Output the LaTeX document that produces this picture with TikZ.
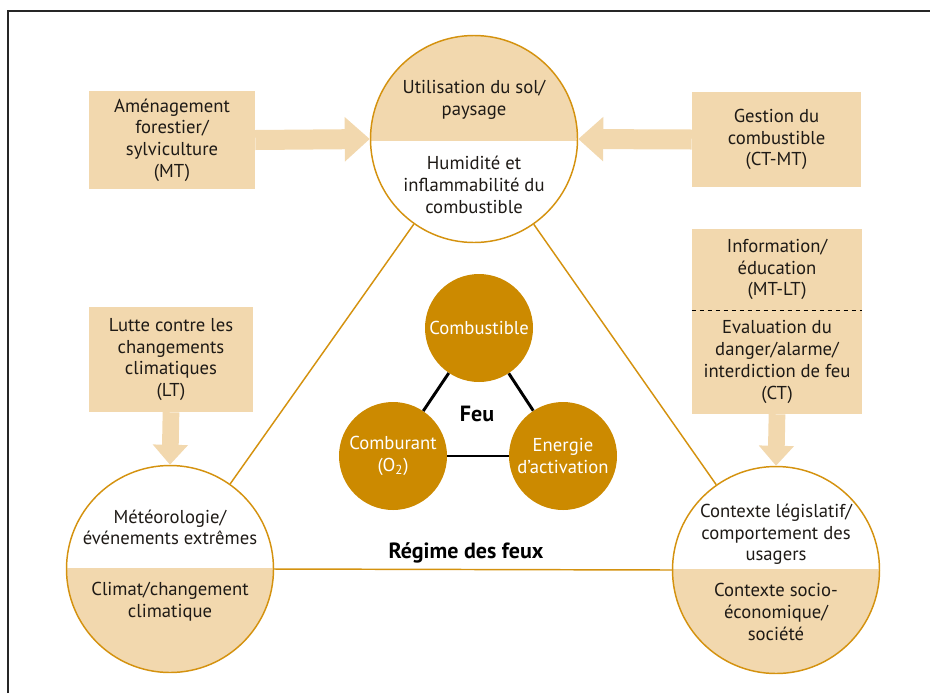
\documentclass[tikz,border=0pt]{standalone}
\usepackage{fontspec}
\setmainfont{PT Sans}
\usetikzlibrary{arrows.meta}
\definecolor{tanfill}{HTML}{F2D8AE}
\definecolor{goldline}{HTML}{D4920F}
\definecolor{innerfill}{HTML}{CC8A00}
\definecolor{txt}{HTML}{1E1A16}
\begin{document}
\begin{tikzpicture}[x=0.75pt,y=-0.75pt,
  every node/.style={font=\fontsize{14}{16.3}\selectfont, text=txt, align=center, inner sep=0pt},
  tanbox/.style={fill=tanfill, minimum width=#1},
  bigcirc/.style={circle, draw=goldline, line width=1.1pt, minimum size=155.25pt},
  smallcirc/.style={circle, fill=innerfill, minimum size=81pt, text=white},
  trilink/.style={draw=goldline, line width=1.1pt},
  firelink/.style={draw=black, line width=2.2pt},
  fathoriz/.style={draw=tanfill, line width=15pt, -{Triangle[width=32.25pt,length=18.75pt]}},
  fatvert/.style={draw=tanfill, line width=12.5pt, -{Triangle[width=25.5pt,length=15pt]}},
  boldlabel/.style={font=\fontsize{16.5}{18}\selectfont\bfseries, text=black}
]
\useasboundingbox (0,0) rectangle (930,693);
% frame
\draw[line width=1.1pt, color=black!85] (8,693) -- (8,11) -- (930,11);

% half fills of the big circles
\begin{scope}
  \clip (474,139) circle (103.5);
  \fill[tanfill] (360,20) rectangle (590,141);
\end{scope}
\begin{scope}
  \clip (170,569) circle (103.5);
  \fill[tanfill] (60,568) rectangle (280,680);
\end{scope}
\begin{scope}
  \clip (776,570) circle (103.5);
  \fill[tanfill] (660,569) rectangle (890,680);
\end{scope}

% big circles
\node[bigcirc] (top) at (474,139) {};
\node[bigcirc] (left) at (170,569) {};
\node[bigcirc] (right) at (776,570) {};

% circle texts
\node (topA) at (474,100) {Utilisation du sol/\\paysage};
\node (topB) at (474,185) {Humidité et\\inflammabilité du\\combustible};
\node (leftA) at (170,527.5) {Météorologie/\\événements extrêmes};
\node (leftB) at (170,601.5) {Climat/changement\\climatique};
\node (rightA) at (776,534.5) {Contexte législatif/\\comportement des\\usagers};
\node (rightB) at (776,612) {Contexte socio-\\économique/\\société};

% triangle of influences
\draw[trilink] (top) -- (left);
\draw[trilink] (top) -- (right);
\draw[trilink] (left.east) -- (right.west);
\node[boldlabel] (regime) at (466,553) {Régime des feux};

% fire triangle
\node[smallcirc] (combustible) at (479,328) {Combustible};
\node[smallcirc] (comburant) at (393,456) {Comburant\\(O\textsubscript{2})};
\node[smallcirc] (energie) at (563,456) {Energie\\d’activation};
\draw[firelink] (combustible) -- (comburant);
\draw[firelink] (comburant) -- (energie);
\draw[firelink] (energie) -- (combustible);
\node[boldlabel] (feu) at (477,414) {Feu};

% boxes
\node[tanbox=124.5pt, minimum height=73.5pt] (amen) at (172,140)
  {Aménagement\\forestier/\\sylviculture\\(MT)};
\node[tanbox=126.75pt, minimum height=71.25pt] (gestion) at (776.5,139.5)
  {Gestion du\\combustible\\(CT-MT)};
\node[tanbox=127.5pt, minimum height=60.75pt] (infoA) at (777,269.5)
  {Information/\\éducation\\(MT-LT)};
\node[tanbox=127.5pt, minimum height=78pt] (infoB) at (777,362)
  {Evaluation du\\danger/alarme/\\interdiction de feu\\(CT)};
\node[tanbox=123pt, minimum height=78.75pt] (lutte) at (171,359.5)
  {Lutte contre les\\changements\\climatiques\\(LT)};
\draw[line width=0.9pt, dash pattern=on 3.5pt off 2.5pt] (infoA.south west) -- (infoA.south east);

% fat arrows
\draw[fathoriz] (amen.east) -- (top.west);
\draw[fathoriz] (gestion.west) -- (top.east);
\draw[fatvert] (lutte.south) -- (left.north);
\draw[fatvert] (infoB.south) -- (right.north);
\end{tikzpicture}
\end{document}
